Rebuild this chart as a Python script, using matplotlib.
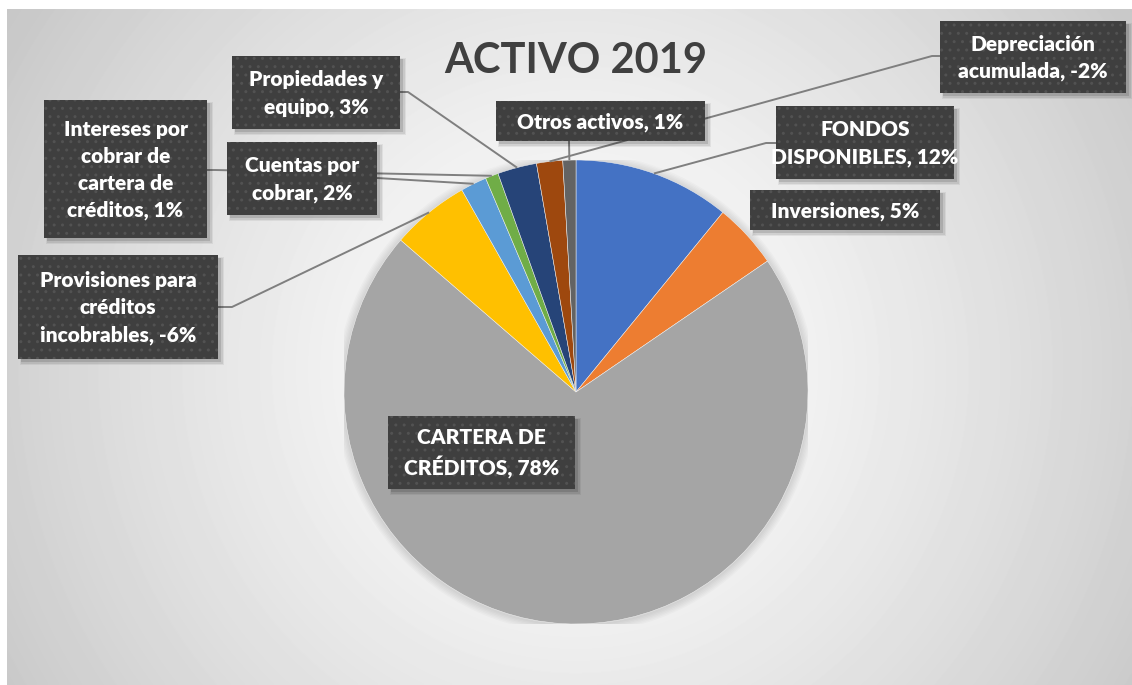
import numpy as np
import matplotlib
matplotlib.use("Agg")
import matplotlib.pyplot as plt
from matplotlib.patches import Rectangle, Circle

# --- data -------------------------------------------------------------
categories = [
    "FONDOS\nDISPONIBLES",
    "Inversiones",
    "CARTERA DE\nCRÉDITOS",
    "Provisiones para\ncréditos\nincobrables",
    "Cuentas por\ncobrar",
    "Intereses por\ncobrar de\ncartera de\ncréditos",
    "Propiedades y\nequipo",
    "Depreciación\nacumulada",
    "Otros activos",
]
percents = [12, 5, 78, -6, 2, 1, 3, -2, 1]
colors = ["#4472C4", "#ED7D31", "#A5A5A5", "#FFC000", "#5B9BD5",
          "#70AD47", "#264478", "#9E480E", "#636363"]
title = "ACTIVO 2019"

# --- layout (pixels, origin top-left) ----------------------------------
W, H = 1132, 685
PIE_CX, PIE_CY, PIE_R = 576, 392, 232
FONT = "Lato"

# label boxes: x0, y0, x1, y1
boxes = [
    (776, 106, 954, 179),
    (750, 190, 940, 230),
    (388, 416, 575, 489),
    (18, 255, 218, 359),
    (227, 142, 377, 215),
    (44, 100, 207, 238),
    (232, 56, 400, 129),
    (940, 21, 1126, 93),
    (496, 101, 705, 141),
]
# leader line: points from box edge (and elbow) toward the slice
leaders = {
    0: [(776, 143), (766, 143)],
    3: [(218, 307), (232, 307)],
    4: [(377, 178)],
    5: [(207, 170), (215, 170)],
    6: [(400, 92), (408, 92)],
    7: [(940, 56), (932, 56)],
    8: [(569, 141)],
}

fig = plt.figure(figsize=(W / 100, H / 100), dpi=100)
fig.patch.set_facecolor("white")

# radial gradient background
bg = fig.add_axes([7 / W, 0, 1 - 7 / W, 1 - 9 / H])
bg.set_zorder(-5)
xs = np.arange(7, W) + 0.5
ys = np.arange(9, H) + 0.5
gx, gy = np.meshgrid(xs, ys)
dist = np.hypot(gx - 576, gy - 370)
t = np.clip(dist / dist.max(), 0, 1)
shade = 1.0 - 0.22 * t ** 1.3
bg.imshow(shade, cmap="gray", vmin=0, vmax=1, aspect="auto",
          extent=(7, W, H, 9), interpolation="bilinear")
bg.axis("off")

# pie
ax = fig.add_axes([(PIE_CX - PIE_R) / W, 1 - (PIE_CY + PIE_R) / H,
                   2 * PIE_R / W, 2 * PIE_R / H])
ax.patch.set_visible(False)
for k in range(6):
    ax.add_patch(Circle((0.0, -0.004), 1.0 + 0.006 * (k + 1),
                        color="black", alpha=0.018, lw=0, zorder=0))
wedges, _ = ax.pie(np.abs(percents), colors=colors, startangle=90,
                   counterclock=False, radius=1.0,
                   wedgeprops=dict(edgecolor="#F2F2F2", linewidth=0.35))
ax.set_xlim(-1, 1)
ax.set_ylim(-1, 1)
ax.set_aspect("equal")
ax.axis("off")

# overlay for labels in pixel coordinates
ov = fig.add_axes([0, 0, 1, 1])
ov.set_xlim(0, W)
ov.set_ylim(H, 0)
ov.axis("off")
ov.patch.set_visible(False)
ov.set_zorder(2)

for i, pts in leaders.items():
    w = wedges[i]
    mid = np.deg2rad((w.theta1 + w.theta2) / 2)
    end = (PIE_CX + PIE_R * np.cos(mid), PIE_CY - PIE_R * np.sin(mid))
    path = list(pts) + [end]
    ov.plot([p[0] for p in path], [p[1] for p in path],
            color="#7F7F7F", lw=1.4, zorder=1, solid_capstyle="butt")

for i, (cat, pct) in enumerate(zip(categories, percents)):
    x0, y0, x1, y1 = boxes[i]
    bw, bh = x1 - x0, y1 - y0
    for off, grow, a in [(4, 2, 0.06), (4, 1, 0.08), (3, 0, 0.12)]:
        ov.add_patch(Rectangle((x0 + off - grow, y0 + off - grow),
                               bw + 2 * grow, bh + 2 * grow,
                               facecolor="black", alpha=a, lw=0, zorder=2))
    ov.add_patch(Rectangle((x0, y0), bw, bh, facecolor="#3F3F3F",
                           edgecolor="#525252", hatch="..", lw=0, zorder=3))
    ov.text((x0 + x1) / 2, (y0 + y1) / 2 + 1, f"{cat}, {pct}%",
            ha="center", va="center", ma="center", color="white",
            fontsize=15, fontweight="heavy", family=FONT,
            linespacing=1.5, zorder=4)

ov.text(576, 61, title, ha="center", va="center", color="#404040",
        fontsize=30, fontweight="bold", family=FONT, zorder=4)

fig.savefig("out.png", dpi=100, facecolor="white")
